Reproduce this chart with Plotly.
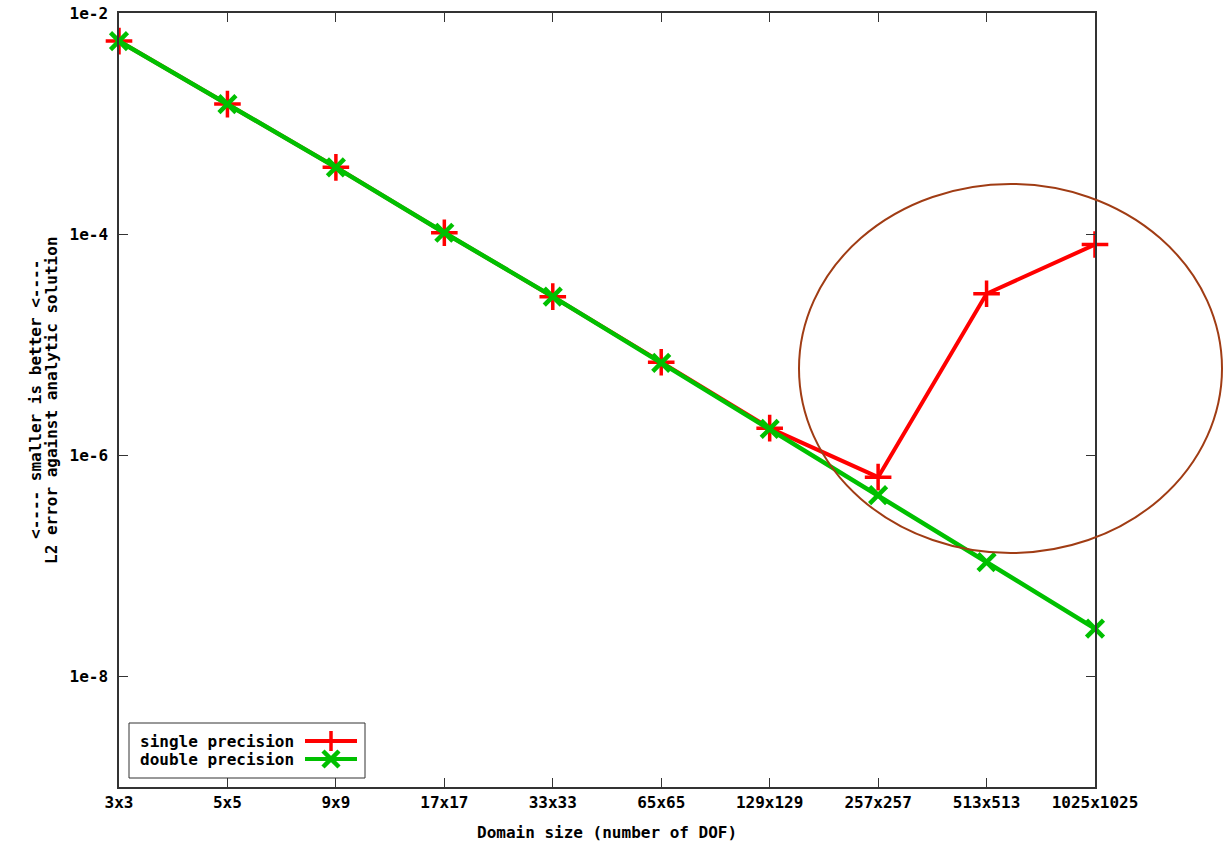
import plotly.graph_objects as go

categories = ["3x3", "5x5", "9x9", "17x17", "33x33", "65x65", "129x129",
              "257x257", "513x513", "1025x1025"]
single_precision = [5.57e-3, 1.50e-3, 4.02e-4, 1.03e-4, 2.72e-5, 6.95e-6, 1.76e-6,
                    6.34e-7, 2.89e-5, 8.05e-5]
double_precision = [5.57e-3, 1.50e-3, 4.02e-4, 1.03e-4, 2.72e-5, 6.86e-6, 1.73e-6,
                    4.36e-7, 1.08e-7, 2.71e-8]
y_tick_vals = [1e-8, 1e-6, 1e-4, 1e-2]
y_tick_text = ["1e-8", "1e-6", "1e-4", "1e-2"]
y_title_lines = ["<---- smaller is better <----", "L2 error against analytic solution"]
x_title = "Domain size (number of DOF)"

RED = "#ff0000"
GREEN = "#00c000"
BROWN = "#a03c14"
FONT = "DejaVu Sans Mono"
FS = 16

fig = go.Figure()
fig.add_trace(go.Scatter(
    x=categories, y=single_precision, mode="lines+markers", name="single precision",
    line=dict(color=RED, width=4),
    marker=dict(symbol="cross-thin", size=19, line=dict(color=RED, width=3.5)),
    showlegend=False, cliponaxis=False))
fig.add_trace(go.Scatter(
    x=categories, y=double_precision, mode="lines+markers", name="double precision",
    line=dict(color=GREEN, width=4.5),
    marker=dict(symbol="x-thin", size=17, line=dict(color=GREEN, width=4.5)),
    showlegend=False, cliponaxis=False))

L, R, T, B = 119, 135, 13, 58
W, H = 1230, 845
pw, ph = W - L - R, H - T - B

def px(x):
    return (x - L) / pw

def py(y):
    return (H - B - y) / ph

shapes = []
shapes.append(dict(type="circle", xref="paper", yref="paper",
                   x0=px(799), x1=px(1222), y0=py(553), y1=py(184),
                   line=dict(color=BROWN, width=2)))
shapes.append(dict(type="rect", xref="paper", yref="paper",
                   x0=px(129), x1=px(365), y0=py(778), y1=py(723),
                   line=dict(color="#333333", width=1), fillcolor="white", layer="below"))

def seg(xa, ya, x0, y0, x1, y1, color, width):
    return dict(type="line", xref="paper", yref="paper", xsizemode="pixel", ysizemode="pixel",
                xanchor=xa, yanchor=ya, x0=x0, x1=x1, y0=y0, y1=y1,
                line=dict(color=color, width=width))

bold = dict(family=FONT, size=FS, color="black", weight="bold")
legend_rows = [("single precision", RED, 741, "plus"), ("double precision", GREEN, 759, "x")]
annotations = []
for label, color, yy, kind in legend_rows:
    xa, ya = px(331), py(yy)
    shapes.append(seg(xa, ya, -26, 0, 26, 0, color, 4))
    if kind == "plus":
        shapes.append(seg(xa, ya, 0, -10, 0, 10, color, 3.5))
    else:
        shapes.append(seg(xa, ya, -8, -8, 8, 8, color, 4.5))
        shapes.append(seg(xa, ya, -8, 8, 8, -8, color, 4.5))
    annotations.append(dict(text=label, xref="paper", yref="paper", x=px(296), y=ya,
                            xanchor="right", yanchor="middle", showarrow=False, font=bold))

for line_text, xx in zip(y_title_lines, [35, 51]):
    annotations.append(dict(text=line_text, xref="paper", yref="paper", x=px(xx), y=0.5,
                            xanchor="center", yanchor="middle", textangle=-90,
                            showarrow=False, font=bold))
annotations.append(dict(text=x_title, xref="paper", yref="paper", x=0.5, y=py(832),
                        xanchor="center", yanchor="middle", showarrow=False, font=bold))

fig.update_layout(
    width=W, height=H,
    margin=dict(l=L, r=R, t=T, b=B, autoexpand=False),
    paper_bgcolor="white", plot_bgcolor="white",
    font=bold,
    shapes=shapes, annotations=annotations,
    xaxis=dict(type="category", range=[0, 9], showline=True, linecolor="#333333", linewidth=1.5,
               mirror="ticks", ticks="inside", ticklen=9, tickcolor="#333333", showgrid=False,
               zeroline=False, automargin=False, tickfont=bold),
    yaxis=dict(type="log", range=[-9, -2], tickvals=y_tick_vals, ticktext=y_tick_text,
               showline=True, linecolor="#333333", linewidth=1.5, mirror="ticks",
               ticks="inside", ticklen=9, tickcolor="#333333", showgrid=False, zeroline=False,
               automargin=False, tickfont=bold, ticklabelstandoff=6),
)

fig.write_html("out.html", config={"displayModeBar": False},
               post_script="document.body.style.margin='0';")
